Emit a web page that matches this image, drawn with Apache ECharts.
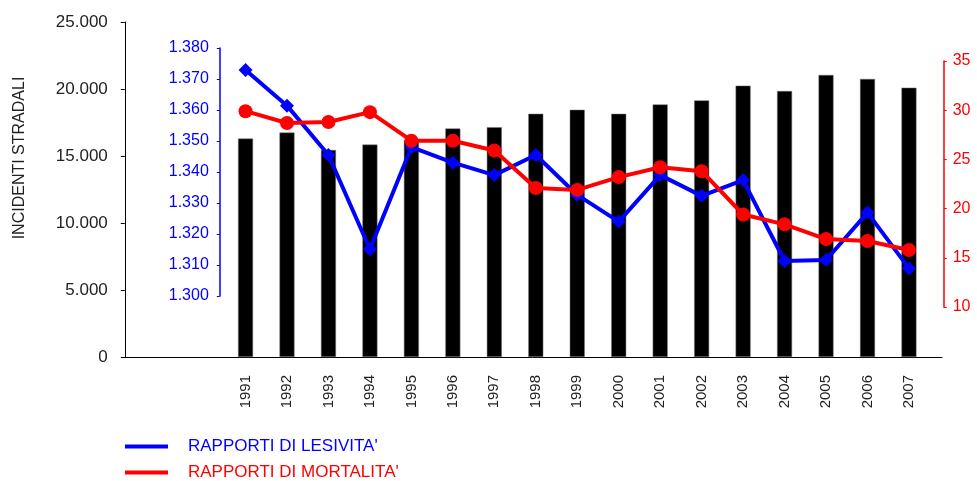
<!DOCTYPE html>
<html>
<head>
<meta charset="utf-8">
<script src="https://cdn.jsdelivr.net/npm/echarts@6/dist/echarts.min.js"></script>
<style>
  html, body { margin: 0; padding: 0; background: #fff; }
  #chart { width: 977px; height: 481px; }
</style>
</head>
<body>
<div id="chart"></div>
<script>
const years = ['1991', '1992', '1993', '1994', '1995', '1996', '1997', '1998', '1999',
  '2000', '2001', '2002', '2003', '2004', '2005', '2006', '2007']
const incidenti = [16300, 16750, 15450, 15850, 16150, 17050, 17150, 18150, 18450,
  18150, 18850, 19150, 20250, 19850, 21050, 20750, 20100]
const lesivita = [1.3729, 1.3614, 1.3455, 1.3151, 1.3480, 1.3430, 1.3390, 1.3455, 1.3326,
  1.3240, 1.3390, 1.3323, 1.3374, 1.3113, 1.3116, 1.3269, 1.3089]
const mortalita = [29.9, 28.7, 28.8, 29.8, 26.9, 26.9, 25.9, 22.1, 21.9,
  23.2, 24.2, 23.8, 19.4, 18.4, 16.9, 16.7, 15.8]

const nameLes = "RAPPORTI DI LESIVITA'"
const nameMor = "RAPPORTI DI MORTALITA'"
const font = 'Liberation Sans, Arial, sans-serif'

const chart = echarts.init(document.getElementById('chart'))

// griglie sovrapposte: barre, lesivita, mortalita, linea di base
const gl = 224.8
const gr = 47.3

const option = {
  animation: false,
  textStyle: { fontFamily: font },
  graphic: [{
    type: 'text',
    x: 20,
    y: 158,
    rotation: Math.PI / 2,
    style: {
      text: 'INCIDENTI STRADALI',
      font: '16px ' + font,
      fill: '#222',
      align: 'center',
      verticalAlign: 'middle'
    }
  }],
  legend: {
    orient: 'vertical',
    left: 125,
    top: 438,
    bottom: 0,
    padding: 0,
    icon: 'rect',
    itemWidth: 43,
    itemHeight: 4,
    itemGap: 9,
    textStyle: { fontSize: 17, lineHeight: 17, padding: [0, 0, 0, 15] },
    data: [
      { name: nameLes, textStyle: { color: '#0000ff' } },
      { name: nameMor, textStyle: { color: '#ff0000' } }
    ]
  },
  grid: [
    { left: gl, right: gr, top: 22, bottom: 124 },
    { left: gl, right: gr, top: 48, bottom: 185 },
    { left: gl, right: gr, top: 61, bottom: 174 },
    { left: 123, right: 35, top: 22, bottom: 124 }
  ],
  xAxis: [
    {
      type: 'category', gridIndex: 0, data: years,
      axisLine: { show: false }, axisTick: { show: false },
      axisLabel: { rotate: 90, margin: 18, fontSize: 15, color: '#222' }
    },
    { type: 'category', gridIndex: 1, data: years, show: false },
    { type: 'category', gridIndex: 2, data: years, show: false },
    {
      type: 'value', gridIndex: 3, min: 0, max: 1,
      axisLine: { show: true, lineStyle: { color: '#000', width: 1 } },
      axisTick: { show: false }, axisLabel: { show: false }, splitLine: { show: false }
    }
  ],
  yAxis: [
    {
      type: 'value', gridIndex: 0, position: 'left', offset: 100,
      min: 0, max: 25000, interval: 5000,
      axisLine: { show: true, lineStyle: { color: '#000' } },
      axisTick: { show: true, length: 4, lineStyle: { color: '#000' } },
      splitLine: { show: false },
      axisLabel: {
        margin: 17, fontSize: 17, color: '#222',
        formatter: v => v === 0 ? '0' : String(v).replace(/\B(?=(\d{3})+(?!\d))/g, '.')
      }
    },
    {
      type: 'value', gridIndex: 1, position: 'left', offset: 5,
      min: 1.3, max: 1.38, interval: 0.01,
      axisLine: { show: true, lineStyle: { color: '#0000ff', width: 1.5 } },
      axisTick: { show: true, length: 3, lineStyle: { color: '#0000ff' } },
      splitLine: { show: false },
      axisLabel: { margin: 11, fontSize: 16, color: '#0000ff', formatter: v => v.toFixed(3) }
    },
    {
      type: 'value', gridIndex: 2, position: 'right', offset: 14,
      min: 10, max: 35, interval: 5,
      axisLine: { show: true, lineStyle: { color: '#ff0000', width: 1.5 } },
      axisTick: { show: true, length: 3, lineStyle: { color: '#ff0000' } },
      splitLine: { show: false },
      axisLabel: { margin: 9, fontSize: 16, color: '#ff0000' }
    },
    { type: 'value', gridIndex: 3, show: false, min: 0, max: 1 }
  ],
  series: [
    {
      name: 'INCIDENTI STRADALI',
      type: 'bar',
      xAxisIndex: 0, yAxisIndex: 0,
      data: incidenti,
      barWidth: 15,
      itemStyle: { color: '#000', borderColor: '#777', borderWidth: 0.5 }
    },
    {
      name: nameLes,
      type: 'line',
      xAxisIndex: 1, yAxisIndex: 1,
      data: lesivita,
      symbol: 'diamond',
      symbolSize: 14,
      lineStyle: { width: 4, color: '#0000ff' },
      itemStyle: { color: '#0000ff' },
      z: 3
    },
    {
      name: nameMor,
      type: 'line',
      xAxisIndex: 2, yAxisIndex: 2,
      data: mortalita,
      symbol: 'circle',
      symbolSize: 14,
      lineStyle: { width: 4, color: '#ff0000' },
      itemStyle: { color: '#ff0000' },
      z: 4
    }
  ]
}

chart.setOption(option)
</script>
</body>
</html>
